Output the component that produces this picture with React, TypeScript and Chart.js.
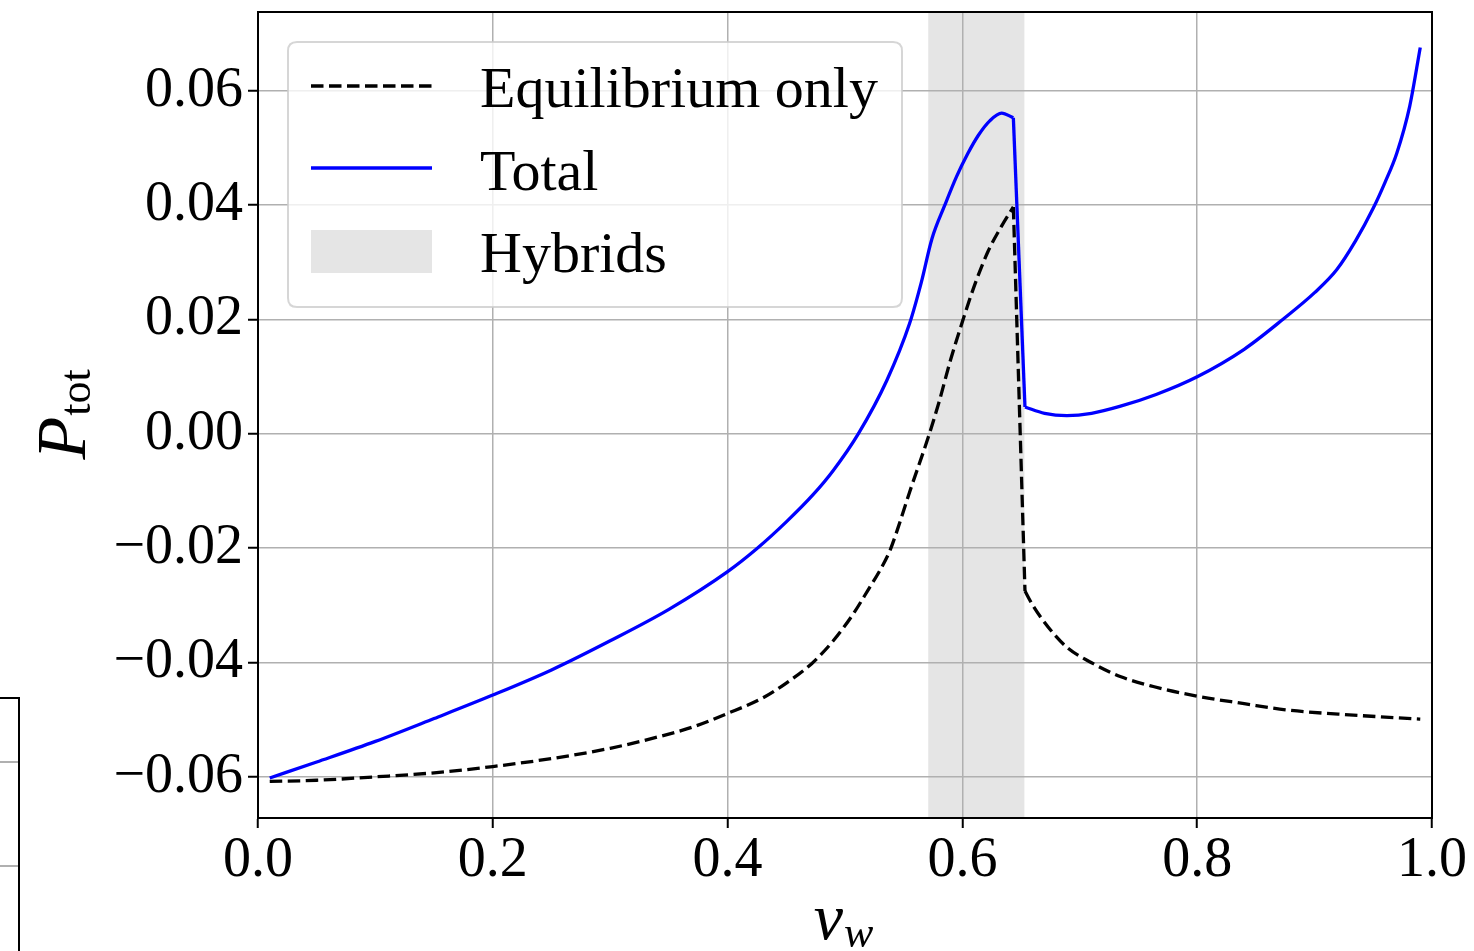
import React, { useEffect, useRef } from "react";
import { Chart, registerables } from "chart.js";

Chart.register(...registerables);

// ---- data ----
const vwTotal = [0.01, 0.05, 0.1, 0.15, 0.2, 0.25, 0.3, 0.35, 0.4, 0.4248, 0.45, 0.473, 0.49, 0.5113, 0.5355, 0.555, 0.565, 0.574, 0.585, 0.595, 0.6045, 0.6135, 0.6235, 0.6334, 0.6434, 0.6533, 0.67, 0.689, 0.71, 0.734, 0.765, 0.8, 0.84, 0.8734, 0.9, 0.9188, 0.935, 0.95, 0.96, 0.97, 0.981, 0.99];
const pTotal = [-0.0602, -0.0574, -0.0538, -0.0498, -0.0457, -0.0413, -0.0362, -0.0307, -0.0241, -0.0201, -0.0154, -0.0106, -0.0064, 0.0, 0.0093, 0.0193, 0.0265, 0.0341, 0.04, 0.045, 0.049, 0.0522, 0.0548, 0.0561, 0.0553, 0.0047, 0.0036, 0.0032, 0.0036, 0.0048, 0.0069, 0.01, 0.0148, 0.0201, 0.0247, 0.0287, 0.0338, 0.0395, 0.044, 0.0491, 0.0573, 0.0676];

const vwEq = [0.01, 0.05, 0.1, 0.15, 0.2, 0.25, 0.3, 0.341, 0.37, 0.4, 0.43, 0.45, 0.4716, 0.49, 0.507, 0.52, 0.53, 0.5383, 0.547, 0.555, 0.5709, 0.58, 0.59, 0.6006, 0.61, 0.6218, 0.633, 0.6434, 0.6533, 0.66, 0.6675, 0.6775, 0.69, 0.7115, 0.735, 0.7626, 0.8, 0.84, 0.876, 0.933, 0.99];
const pEq = [-0.0608, -0.0606, -0.06, -0.0593, -0.0582, -0.0568, -0.055, -0.053, -0.0513, -0.0489, -0.0462, -0.0436, -0.0402, -0.0362, -0.0315, -0.0272, -0.0238, -0.0204, -0.0153, -0.0102, -0.0006, 0.0055, 0.013, 0.02, 0.0258, 0.0319, 0.0362, 0.0397, -0.0275, -0.03, -0.0323, -0.0349, -0.0375, -0.0402, -0.0425, -0.0442, -0.0459, -0.0472, -0.0483, -0.0492, -0.0499];

// v_w where both curves jump (end of the hybrid branch)
const jumpFrom = 0.6434;
const jumpTo = 0.6533;

const hybridStart = 0.5709;
const hybridEnd = 0.6528;

const xTicks = [0.0, 0.2, 0.4, 0.6, 0.8, 1.0];
const yTicks = [-0.06, -0.04, -0.02, 0.0, 0.02, 0.04, 0.06];

const legendLabels = ["Equilibrium only", "Total", "Hybrids"];

const FONT = "'Liberation Serif', 'DejaVu Serif', serif";
const BAND_COLOR = "#e5e5e5";
const GRID_COLOR = "#b0b0b0";
const LINE_W = 3.3;
const DASH = [12.5, 5.5];

// split a series into smooth part / jump / smooth part
function splitSeries(xs: number[], ys: number[]) {
  const pts = xs.map((x, i) => ({ x, y: ys[i] }));
  const a = xs.indexOf(jumpFrom);
  const b = xs.indexOf(jumpTo);
  return [pts.slice(0, a + 1), pts.slice(a, b + 1), pts.slice(b)];
}

const bandPlugin = {
  id: "hybridBand",
  beforeDraw(chart: any) {
    const { ctx, chartArea, scales } = chart;
    const x = scales.x;
    const x0 = x.getPixelForValue(hybridStart);
    const x1 = x.getPixelForValue(hybridEnd);
    ctx.save();
    ctx.fillStyle = BAND_COLOR;
    ctx.fillRect(x0, chartArea.top, x1 - x0, chartArea.bottom - chartArea.top);
    ctx.restore();
  },
};

const framePlugin = {
  id: "frame",
  afterDatasetsDraw(chart: any) {
    const { ctx, chartArea } = chart;
    ctx.save();
    ctx.strokeStyle = "#000";
    ctx.lineWidth = 2;
    ctx.strokeRect(chartArea.left, chartArea.top, chartArea.right - chartArea.left, chartArea.bottom - chartArea.top);
    ctx.restore();
  },
};

function roundRect(ctx: CanvasRenderingContext2D, x: number, y: number, w: number, h: number, r: number) {
  ctx.beginPath();
  ctx.moveTo(x + r, y);
  ctx.lineTo(x + w - r, y);
  ctx.quadraticCurveTo(x + w, y, x + w, y + r);
  ctx.lineTo(x + w, y + h - r);
  ctx.quadraticCurveTo(x + w, y + h, x + w - r, y + h);
  ctx.lineTo(x + r, y + h);
  ctx.quadraticCurveTo(x, y + h, x, y + h - r);
  ctx.lineTo(x, y + r);
  ctx.quadraticCurveTo(x, y, x + r, y);
  ctx.closePath();
}

const legendPlugin = {
  id: "mplLegend",
  afterDraw(chart: any) {
    const { ctx, chartArea } = chart;
    const bx = chartArea.left + 30;
    const by = chartArea.top + 30;
    const bw = 614;
    const bh = 265;
    ctx.save();
    roundRect(ctx, bx, by, bw, bh, 9);
    ctx.fillStyle = "rgba(255,255,255,0.8)";
    ctx.fill();
    ctx.strokeStyle = "rgba(204,204,204,0.8)";
    ctx.lineWidth = 2;
    ctx.stroke();

    const hx0 = bx + 23;
    const hx1 = bx + 144;
    const tx = bx + 192;
    const rows = [by + 44, by + 126, by + 209];

    ctx.beginPath();
    ctx.setLineDash(DASH);
    ctx.strokeStyle = "#000";
    ctx.lineWidth = LINE_W;
    ctx.moveTo(hx0, rows[0]);
    ctx.lineTo(hx1, rows[0]);
    ctx.stroke();
    ctx.setLineDash([]);

    ctx.beginPath();
    ctx.strokeStyle = "#0000ff";
    ctx.lineWidth = LINE_W;
    ctx.moveTo(hx0, rows[1]);
    ctx.lineTo(hx1, rows[1]);
    ctx.stroke();

    ctx.fillStyle = BAND_COLOR;
    ctx.fillRect(hx0, rows[2] - 21, hx1 - hx0, 43);

    ctx.fillStyle = "#000";
    ctx.font = `58px ${FONT}`;
    ctx.textAlign = "left";
    ctx.textBaseline = "alphabetic";
    ctx.fillText(legendLabels[0], tx, by + 65);
    ctx.fillText(legendLabels[1], tx, by + 148);
    ctx.fillText(legendLabels[2], tx, by + 230);
    ctx.restore();
  },
};

const axisLabelPlugin = {
  id: "axisLabels",
  afterDraw(chart: any) {
    const { ctx, chartArea } = chart;
    ctx.save();
    ctx.fillStyle = "#000";
    ctx.textBaseline = "alphabetic";
    ctx.textAlign = "left";
    // x label: v_w
    const cx = (chartArea.left + chartArea.right) / 2;
    ctx.font = `italic 66px ${FONT}`;
    const vW = ctx.measureText("v").width;
    ctx.font = `italic 44px ${FONT}`;
    const wW = ctx.measureText("w").width;
    const startX = cx - (vW + wW) / 2 - 2;
    ctx.font = `italic 66px ${FONT}`;
    ctx.fillText("v", startX, 939);
    ctx.font = `italic 44px ${FONT}`;
    ctx.fillText("w", startX + vW + 1, 947);

    // y label: P_tot rotated
    const cy = (chartArea.top + chartArea.bottom) / 2;
    ctx.translate(85, cy);
    ctx.rotate(-Math.PI / 2);
    ctx.font = `italic 70px ${FONT}`;
    const pW = ctx.measureText("P").width;
    ctx.font = `44px ${FONT}`;
    const tW = ctx.measureText("tot").width;
    const sx = -(pW + tW) / 2;
    ctx.font = `italic 70px ${FONT}`;
    ctx.fillText("P", sx, 0);
    ctx.font = `44px ${FONT}`;
    ctx.fillText("tot", sx + pW + 1, 5);
    ctx.restore();
  },
};

function fmt(v: number, d: number) {
  const s = Math.abs(v).toFixed(d);
  return v < -1e-9 ? "\u2212" + s : s;
}

function MainChart() {
  const ref = useRef<HTMLCanvasElement | null>(null);
  useEffect(() => {
    if (!ref.current) return;
    const eqParts = splitSeries(vwEq, pEq);
    const totParts = splitSeries(vwTotal, pTotal);
    const eqStyle = {
      borderColor: "#000",
      borderWidth: LINE_W,
      borderDash: DASH,
      pointRadius: 0,
      fill: false,
    };
    const totStyle = {
      borderColor: "#0000ff",
      borderWidth: LINE_W,
      pointRadius: 0,
      fill: false,
    };
    const chart = new Chart(ref.current, {
      type: "line",
      data: {
        datasets: [
          { label: legendLabels[0], data: eqParts[0], ...eqStyle, cubicInterpolationMode: "monotone" },
          { label: legendLabels[0], data: eqParts[1], ...eqStyle, tension: 0 },
          { label: legendLabels[0], data: eqParts[2], ...eqStyle, cubicInterpolationMode: "monotone" },
          { label: legendLabels[1], data: totParts[0], ...totStyle, cubicInterpolationMode: "monotone" },
          { label: legendLabels[1], data: totParts[1], ...totStyle, tension: 0 },
          { label: legendLabels[1], data: totParts[2], ...totStyle, cubicInterpolationMode: "monotone" },
        ],
      },
      options: {
        animation: false,
        responsive: false,
        maintainAspectRatio: false,
        layout: { padding: { top: 12, right: 42, left: 0, bottom: 0 } },
        plugins: {
          legend: { display: false },
          tooltip: { enabled: false },
        },
        scales: {
          x: {
            type: "linear",
            min: 0,
            max: 1,
            afterBuildTicks: (s: any) => {
              s.ticks = xTicks.map((v) => ({ value: v }));
            },
            afterFit: (s: any) => {
              s.height = 133;
              s.paddingLeft = 0;
              s.paddingRight = 0;
            },
            grid: {
              color: GRID_COLOR,
              lineWidth: 1.5,
              tickLength: 10,
              tickColor: "#000",
              tickWidth: 2,
            },
            border: { color: "#000", width: 2 },
            ticks: {
              color: "#000",
              font: { family: FONT, size: 56 },
              padding: 0,
              maxRotation: 0,
              callback: (v: any) => fmt(Number(v), 1),
            },
          },
          y: {
            type: "linear",
            min: -0.0672,
            max: 0.0738,
            afterBuildTicks: (s: any) => {
              s.ticks = yTicks.map((v) => ({ value: v }));
            },
            afterFit: (s: any) => {
              s.width = 258;
              s.paddingTop = 0;
              s.paddingBottom = 0;
            },
            grid: {
              color: GRID_COLOR,
              lineWidth: 1.5,
              tickLength: 10,
              tickColor: "#000",
              tickWidth: 2,
            },
            border: { color: "#000", width: 2 },
            ticks: {
              color: "#000",
              font: { family: FONT, size: 56 },
              padding: 5,
              callback: (v: any) => fmt(Number(v), 2),
            },
          },
        },
      },
      plugins: [bandPlugin, framePlugin, legendPlugin, axisLabelPlugin],
    } as any);
    return () => chart.destroy();
  }, []);
  return <canvas ref={ref} width={1474} height={951} style={{ width: 1474, height: 951, display: "block" }} />;
}

export default function App() {
  return (
    <div style={{ position: "absolute", left: 0, top: 0, width: 1474, height: 951, background: "#fff", overflow: "hidden" }}>
      <MainChart />
      <div
        style={{
          position: "absolute",
          left: -2,
          top: 697,
          width: 22,
          height: 260,
          borderTop: "2px solid #000",
          borderRight: "2px solid #000",
          boxSizing: "border-box",
        }}
      >
        <div style={{ position: "absolute", left: 0, right: 0, top: 62, height: 1.5, background: GRID_COLOR }} />
        <div style={{ position: "absolute", left: 0, right: 0, top: 166, height: 1.5, background: GRID_COLOR }} />
      </div>
    </div>
  );
}
